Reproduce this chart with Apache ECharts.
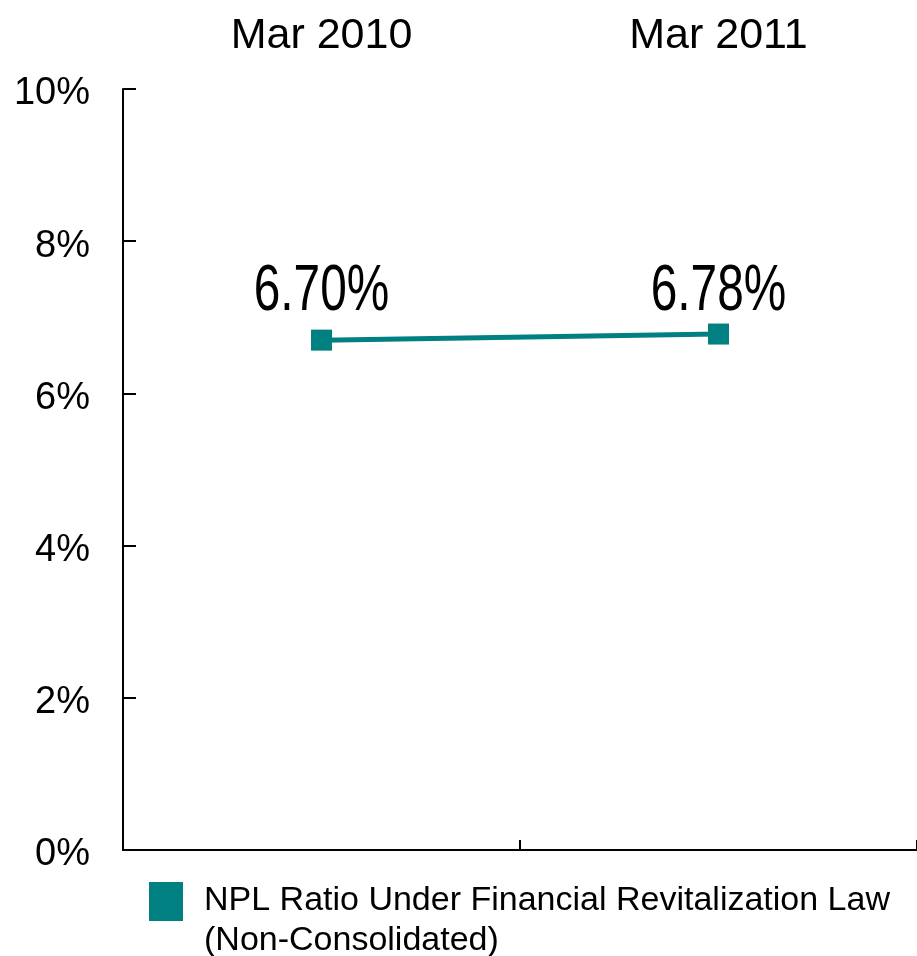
<!DOCTYPE html>
<html>
<head>
<meta charset="utf-8">
<title>NPL Ratio Under Financial Revitalization Law</title>
<script src="https://cdn.jsdelivr.net/npm/echarts@6/dist/echarts.min.js"></script>
<style>
  html, body { margin: 0; padding: 0; background: #ffffff; }
  #chart { width: 917px; height: 956px; }
</style>
</head>
<body>
<div id="chart"></div>
<script>
// Fiscal year-end periods
const periods = ['Mar 2010', 'Mar 2011'];
// NPL ratio (%), non-consolidated
const nplRatio = [6.70, 6.78];
// Value axis ticks (%)
const yTicks = [0, 2, 4, 6, 8, 10];

const seriesName = 'NPL Ratio Under Financial Revitalization Law\n(Non-Consolidated)';
const teal = '#008080';
const fontFamily = 'Liberation Sans, Arial, Helvetica, sans-serif';

const chart = echarts.init(document.getElementById('chart'), null, { renderer: 'canvas' });

const labelData = nplRatio.map((v, i) => [i, v]);
const labelRowValue = Math.max.apply(null, nplRatio);

chart.setOption({
  backgroundColor: '#ffffff',
  animation: false,
  textStyle: { fontFamily: fontFamily },
  // the plot runs past the right edge so the closing category tick stays off-canvas
  grid: { left: 123, right: -3, top: 89, bottom: 106, containLabel: false },
  legend: {
    left: 149,
    top: 882,
    padding: 0,
    itemWidth: 34,
    itemHeight: 39,
    data: [{ name: seriesName, icon: 'rect' }],
    formatter: function (name) {
      const lines = name.split('\n');
      return '{a|' + lines[0] + '}\n{b|' + lines[1] + '}';
    },
    textStyle: {
      fontSize: 34,
      color: '#000000',
      fontFamily: fontFamily,
      padding: [0, 0, 0, 16],
      rich: {
        a: { fontSize: 34, color: '#000000', fontFamily: fontFamily, lineHeight: 78 },
        b: { fontSize: 34, color: '#000000', fontFamily: fontFamily, lineHeight: 2 }
      }
    }
  },
  xAxis: [
    {
      type: 'category',
      data: periods,
      position: 'bottom',
      boundaryGap: true,
      axisLine: { show: true, lineStyle: { color: '#000000', width: 2 } },
      axisTick: { show: true, inside: true, length: 10, lineStyle: { color: '#000000', width: 2 } },
      axisLabel: { show: false },
      splitLine: { show: false }
    },
    {
      type: 'category',
      data: periods,
      position: 'top',
      boundaryGap: true,
      axisLine: { show: false },
      axisTick: { show: false },
      axisLabel: { show: true, fontSize: 43, color: '#000000', margin: 31, fontFamily: fontFamily },
      splitLine: { show: false }
    }
  ],
  yAxis: {
    type: 'value',
    min: yTicks[0],
    max: yTicks[yTicks.length - 1],
    interval: yTicks[1] - yTicks[0],
    axisLine: { show: true, lineStyle: { color: '#000000', width: 2 } },
    axisTick: { show: true, inside: true, length: 13, lineStyle: { color: '#000000', width: 2 } },
    axisLabel: {
      fontSize: 38,
      color: '#000000',
      margin: 33,
      formatter: '{value}%',
      fontFamily: fontFamily,
      verticalAlign: 'top',
      lineHeight: 10
    },
    splitLine: { show: false }
  },
  series: [
    {
      name: seriesName,
      type: 'line',
      xAxisIndex: 0,
      data: nplRatio,
      symbol: 'rect',
      symbolSize: 21,
      showAllSymbol: true,
      lineStyle: { color: teal, width: 5 },
      itemStyle: { color: teal },
      label: { show: false },
      z: 3
    },
    {
      // value labels set in one row above the line, in a condensed face
      name: 'values',
      type: 'custom',
      xAxisIndex: 0,
      coordinateSystem: 'cartesian2d',
      data: labelData,
      silent: true,
      z: 4,
      renderItem: function (params, api) {
        const x = api.coord([api.value(0), api.value(1)])[0];
        const rowY = api.coord([api.value(0), labelRowValue])[1];
        return {
          type: 'text',
          x: x,
          y: rowY - 42,
          scaleX: 0.735,
          style: {
            text: api.value(1).toFixed(2) + '%',
            fontSize: 65,
            fontFamily: fontFamily,
            fill: '#000000',
            align: 'center',
            verticalAlign: 'middle'
          }
        };
      }
    }
  ]
});
</script>
</body>
</html>
